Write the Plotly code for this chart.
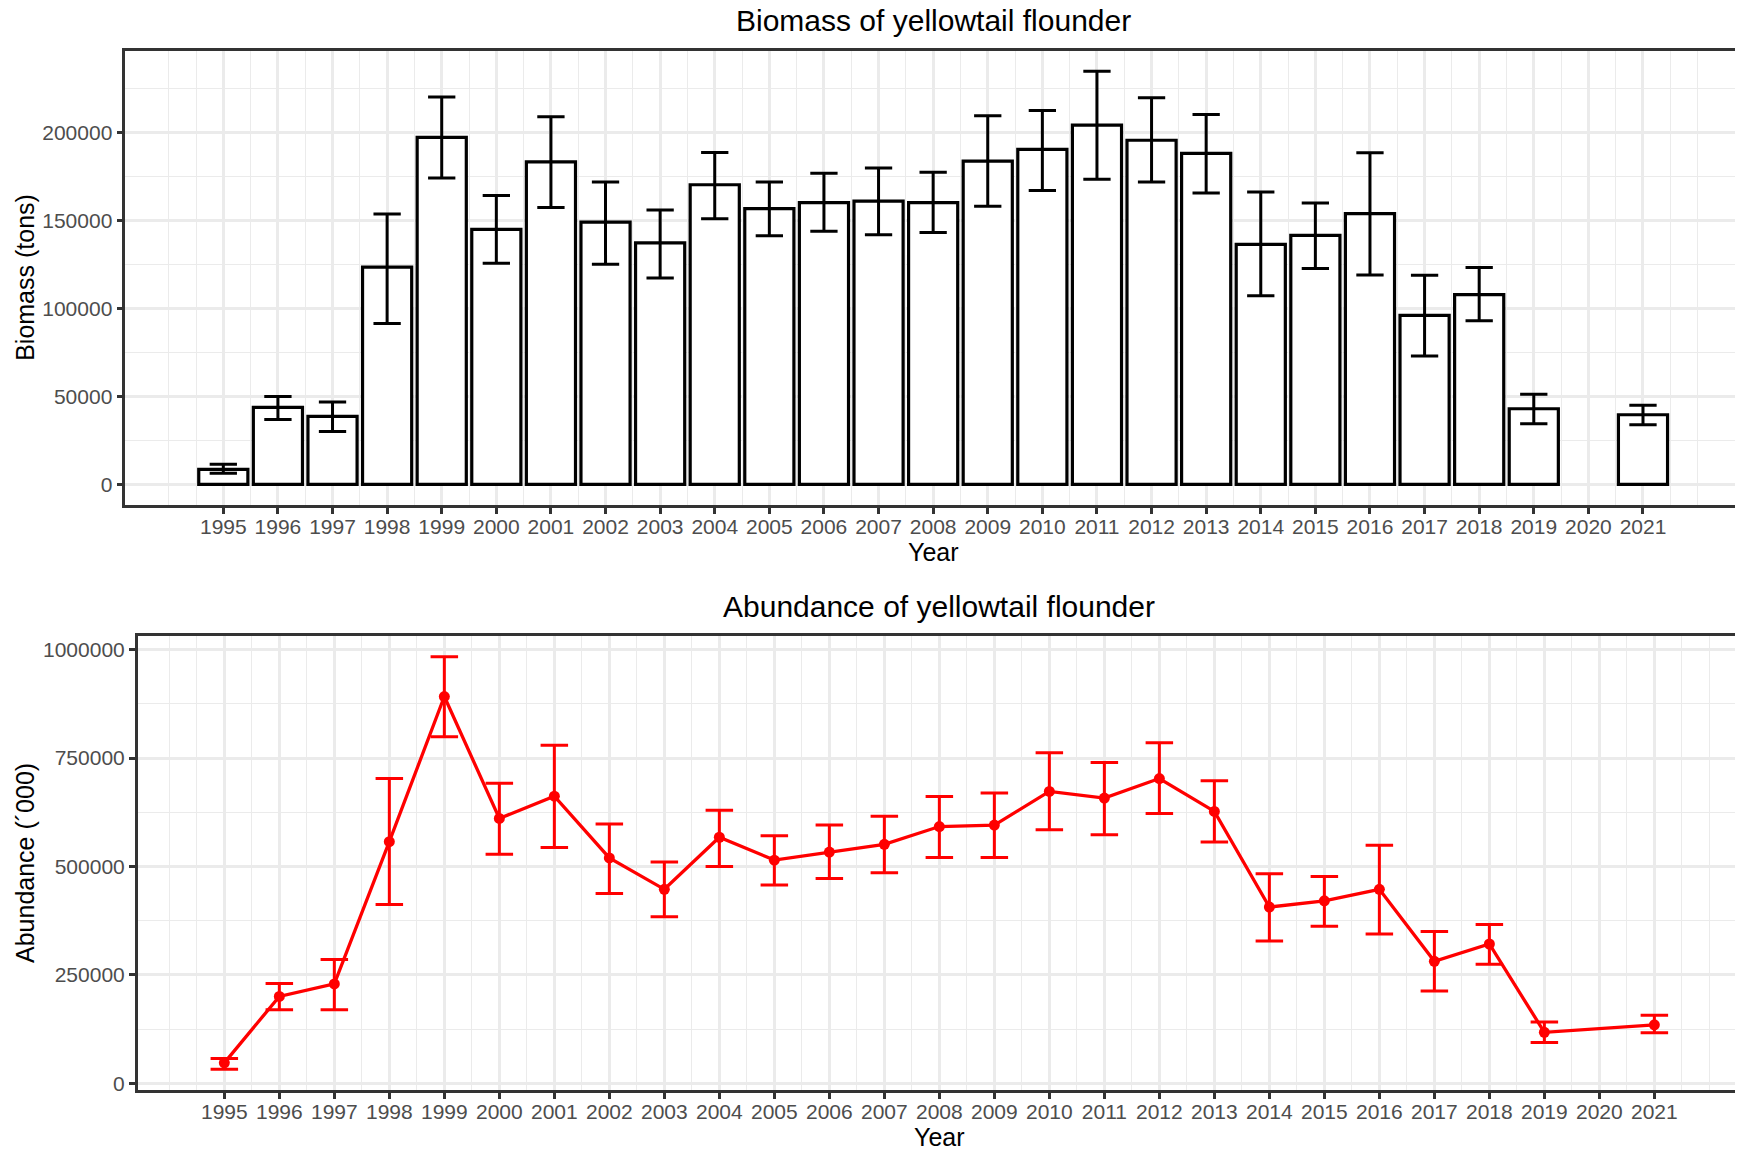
import plotly.graph_objects as go

# ---------------- data ----------------
years = [1995, 1996, 1997, 1998, 1999, 2000, 2001, 2002, 2003, 2004, 2005, 2006, 2007,
         2008, 2009, 2010, 2011, 2012, 2013, 2014, 2015, 2016, 2017, 2018, 2019, 2021]

biomass = [8500, 43800, 38700, 123500, 197400, 145000, 183400, 149100, 137300, 170400,
           156800, 160200, 161100, 160200, 183800, 190500, 204300, 195700, 188200, 136500,
           141600, 154000, 96100, 107900, 43000, 39600]
biomass_lo = [6300, 36900, 30000, 91500, 174200, 125800, 157400, 125200, 117400, 151100,
              141400, 144000, 142000, 143200, 158200, 167100, 173600, 172000, 165700, 107300,
              122700, 119100, 73000, 93100, 34500, 33900]
biomass_hi = [11400, 49900, 46900, 153800, 220300, 164300, 209100, 172000, 156000, 188800,
              172000, 176900, 179900, 177500, 209700, 212600, 234900, 219900, 210300, 166300,
              160000, 188600, 118900, 123300, 51300, 45000]

abundance = [47000, 200200, 229100, 557100, 891800, 610700, 661900, 519600, 447200, 567300,
             514500, 533200, 551100, 592000, 595400, 672900, 657600, 702700, 626900, 406300,
             420800, 447200, 281100, 321100, 117500, 134600]
abund_lo = [32000, 169500, 169500, 412300, 799000, 528100, 543400, 437800, 384200, 500000,
            457400, 471900, 485500, 520500, 520500, 584300, 573300, 621800, 556200, 327900,
            362000, 344100, 212900, 274300, 93700, 116700]
abund_hi = [57000, 230000, 285400, 702700, 983800, 691700, 779400, 598000, 510200, 629500,
            570700, 595400, 615800, 661000, 669500, 762300, 739400, 785300, 697600, 483000,
            477000, 548600, 350100, 366300, 141400, 156700]

tick_years = list(range(1995, 2022))
minor_years = [1994 + 0.5 * i for i in range(57) if (1994 + 0.5 * i) not in tick_years]

biomass_ticks = [0, 50000, 100000, 150000, 200000]
biomass_minor = [25000, 75000, 125000, 175000, 225000]
abund_ticks = [0, 250000, 500000, 750000, 1000000]
abund_minor = [125000, 375000, 625000, 875000]

title_top = "Biomass of yellowtail flounder"
title_bottom = "Abundance of yellowtail flounder"
ylab_top = "Biomass (tons)"
ylab_bottom = "Abundance (´000)"
xlab = "Year"

# ---------------- layout helpers ----------------
OFF = 8  # default page body margin of the html page
W, H = 1743 - OFF, 1152 - OFF
FONT = "Liberation Sans, Arial, sans-serif"
BORDER = "#333333"
GRID = "#EBEBEB"


def expand(lo, hi, f=0.05):
    d = (hi - lo) * f
    return [lo - d, hi + d]


bar_w = 0.9
cap_w = 0.5

x_top_range = expand(min(years) - bar_w / 2, max(years) + bar_w / 2)
x_bot_range = expand(min(years) - cap_w / 2, max(years) + cap_w / 2)
y_top_range = expand(0, max(biomass_hi))
y_bot_range = expand(min(abund_lo), max(abund_hi))

# panel pixel boxes in window coordinates (left, top, right, bottom)
top_box = (125.3, 50.7, 1741.0, 505.0)
bot_box = (137.7, 636.0, 1741.0, 1090.0)


def px(xw):
    return (xw - OFF) / W


def py(yw):
    return 1 - (yw - OFF) / H


def xdom(b):
    return [px(b[0]), px(b[2])]


def ydom(b):
    return [py(b[3]), py(b[1])]


px_per_year_top = (top_box[2] - top_box[0]) / (x_top_range[1] - x_top_range[0])
px_per_year_bot = (bot_box[2] - bot_box[0]) / (x_bot_range[1] - x_bot_range[0])

fig = go.Figure()

fig.add_trace(go.Bar(
    x=years, y=biomass, width=bar_w,
    marker=dict(color="white", line=dict(color="black", width=3.2)),
    error_y=dict(type="data", symmetric=False,
                 array=[h - v for h, v in zip(biomass_hi, biomass)],
                 arrayminus=[v - l for v, l in zip(biomass, biomass_lo)],
                 color="black", thickness=3, width=cap_w * px_per_year_top / 2),
    xaxis="x", yaxis="y", showlegend=False,
))

fig.add_trace(go.Scatter(
    x=years, y=abundance, mode="lines+markers",
    line=dict(color="#FF0000", width=3.3),
    marker=dict(color="#FF0000", size=11),
    error_y=dict(type="data", symmetric=False,
                 array=[h - v for h, v in zip(abund_hi, abundance)],
                 arrayminus=[v - l for v, l in zip(abundance, abund_lo)],
                 color="#FF0000", thickness=3, width=cap_w * px_per_year_bot / 2),
    xaxis="x2", yaxis="y2", showlegend=False,
))

common_axis = dict(
    showline=True, mirror=True, linecolor=BORDER, linewidth=2.5,
    ticks="outside", tickcolor=BORDER, tickwidth=2.5, ticklen=6,
    showgrid=True, gridcolor=GRID, gridwidth=2.7, zeroline=False,
    tickfont=dict(family=FONT, size=21, color="#4D4D4D"),
    automargin=False, fixedrange=True,
)

fig.update_layout(
    width=W, height=H,
    margin=dict(l=0, r=0, t=0, b=0),
    paper_bgcolor="white", plot_bgcolor="white",
    font=dict(family=FONT),
    xaxis=dict(domain=xdom(top_box), range=x_top_range, anchor="y",
               tickmode="array", tickvals=tick_years, ticktext=[str(y) for y in tick_years],
               ticklabelstandoff=-5,
               minor=dict(tickmode="array", tickvals=minor_years, showgrid=True,
                          gridcolor=GRID, gridwidth=1.3, ticks=""),
               **common_axis),
    yaxis=dict(domain=ydom(top_box), range=y_top_range, anchor="x",
               tickmode="array", tickvals=biomass_ticks, ticktext=[str(v) for v in biomass_ticks],
               minor=dict(tickmode="array", tickvals=biomass_minor, showgrid=True,
                          gridcolor=GRID, gridwidth=1.3, ticks=""),
               **common_axis),
    xaxis2=dict(domain=xdom(bot_box), range=x_bot_range, anchor="y2",
                tickmode="array", tickvals=tick_years, ticktext=[str(y) for y in tick_years],
                ticklabelstandoff=-5,
                minor=dict(tickmode="array", tickvals=minor_years, showgrid=True,
                           gridcolor=GRID, gridwidth=1.3, ticks=""),
                **common_axis),
    yaxis2=dict(domain=ydom(bot_box), range=y_bot_range, anchor="x2",
                tickmode="array", tickvals=abund_ticks, ticktext=[str(v) for v in abund_ticks],
                minor=dict(tickmode="array", tickvals=abund_minor, showgrid=True,
                           gridcolor=GRID, gridwidth=1.3, ticks=""),
                **common_axis),
)

ann_font_title = dict(family=FONT, size=30, color="black")
ann_font_axis = dict(family=FONT, size=25, color="black")

annotations = [
    dict(text=title_top, x=px((top_box[0] + top_box[2]) / 2), y=py(20), font=ann_font_title),
    dict(text=title_bottom, x=px((bot_box[0] + bot_box[2]) / 2), y=py(606), font=ann_font_title),
    dict(text=xlab, x=px((top_box[0] + top_box[2]) / 2), y=py(552), font=ann_font_axis),
    dict(text=xlab, x=px((bot_box[0] + bot_box[2]) / 2), y=py(1137), font=ann_font_axis),
    dict(text=ylab_top, x=px(25), y=py((top_box[1] + top_box[3]) / 2),
         font=ann_font_axis, textangle=-90),
    dict(text=ylab_bottom, x=px(25), y=py((bot_box[1] + bot_box[3]) / 2),
         font=ann_font_axis, textangle=-90),
]
for a in annotations:
    a.update(xref="paper", yref="paper", showarrow=False, xanchor="center", yanchor="middle")
fig.update_layout(annotations=annotations)

fig.write_html("out.html")
